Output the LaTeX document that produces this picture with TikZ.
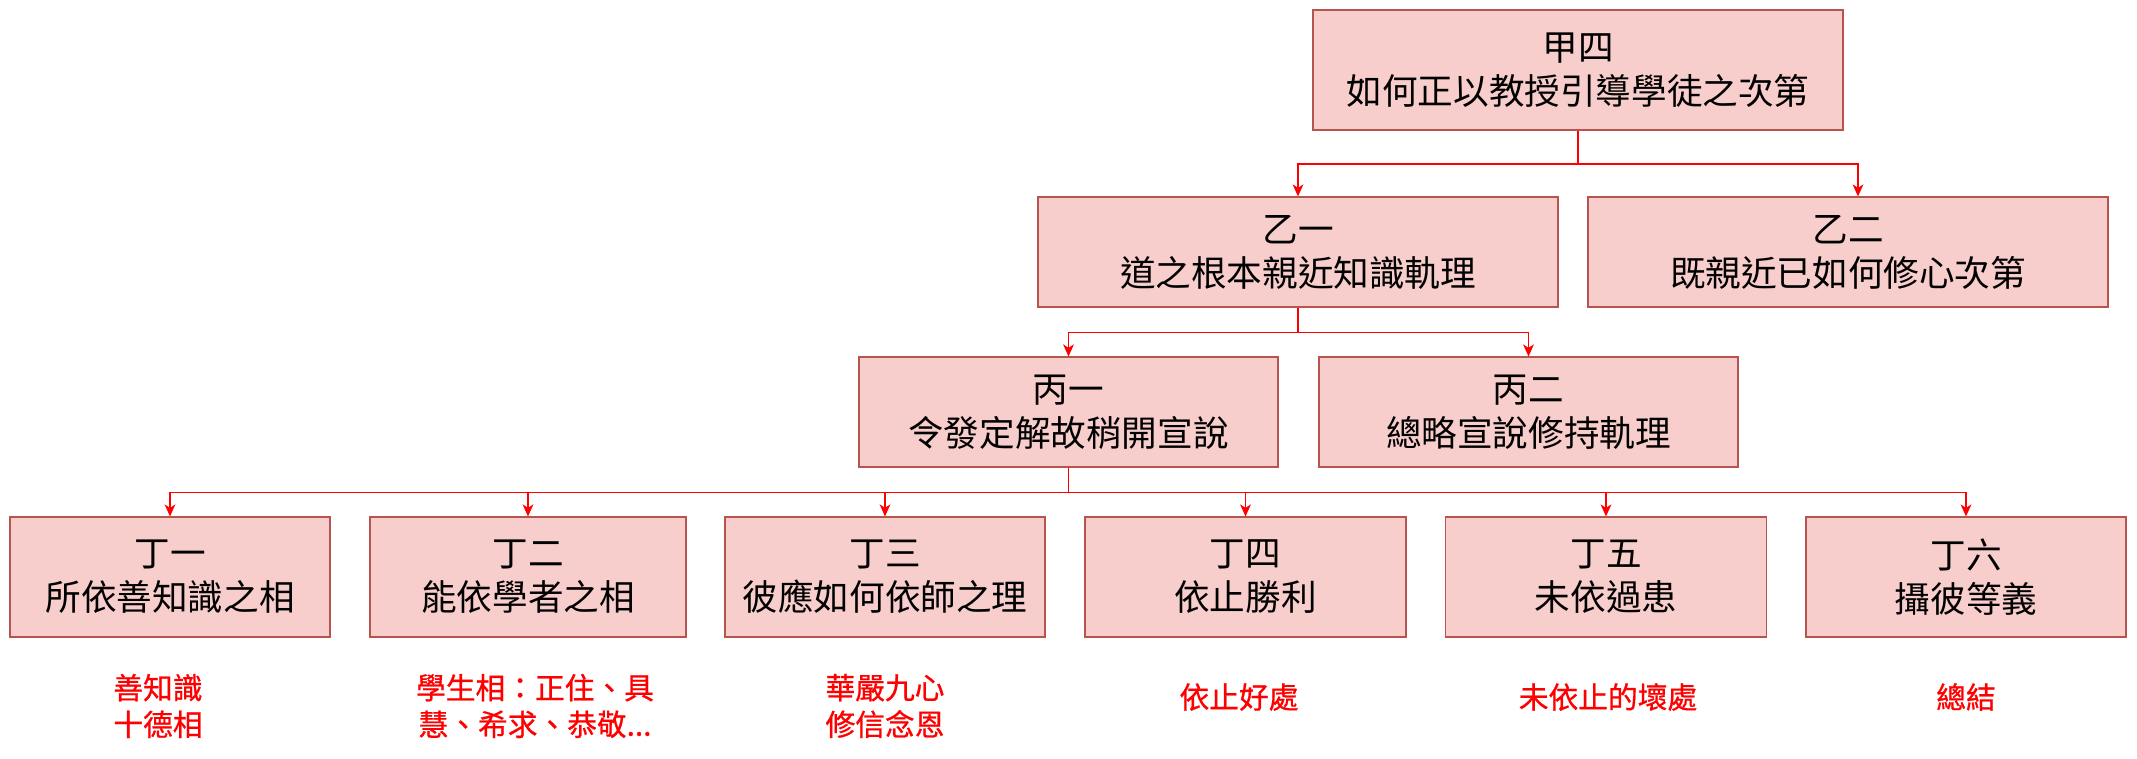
\documentclass[tikz,border=0pt]{standalone}
\usepackage{fontspec}
\newfontfamily\cjk{Noto Sans CJK TC}
\newfontfamily\cjknote[FakeBold=0.8]{Noto Sans CJK TC}
\usetikzlibrary{arrows.meta}
\definecolor{boxfill}{HTML}{F8CECC}
\definecolor{boxdraw}{HTML}{B85450}
\definecolor{connred}{HTML}{FF0000}
\tikzset{
  box/.style={draw=boxdraw, fill=boxfill, line width=0.8pt, align=center, inner sep=0pt,
    text=black, font=\cjk\fontsize{26.7pt}{33pt}\selectfont},
  connector/.style={draw=connred, line width=1.3pt, -{Stealth[length=9pt,width=8pt,inset=2.5pt]}},
  note/.style={text=connred, align=center, inner sep=0pt, font=\cjknote\fontsize{22.3pt}{27.5pt}\selectfont}
}
\begin{document}
\begin{tikzpicture}[x=0.75pt,y=-0.75pt]
\useasboundingbox (0,0) rectangle (2137,758);
% level 1
\node[box, minimum width=530*0.75pt, minimum height=120*0.75pt] (jia) at (1578,70) {甲四\\如何正以教授引導學徒之次第};
% level 2
\node[box, minimum width=520*0.75pt, minimum height=110*0.75pt] (yi1) at (1298,252) {乙一\\道之根本親近知識軌理};
\node[box, minimum width=520*0.75pt, minimum height=110*0.75pt] (yi2) at (1848,252) {乙二\\既親近已如何修心次第};
% level 3
\node[box, minimum width=419*0.75pt, minimum height=110*0.75pt] (bing1) at (1068.5,412) {丙一\\令發定解故稍開宣說};
\node[box, minimum width=419*0.75pt, minimum height=110*0.75pt] (bing2) at (1528.5,412) {丙二\\總略宣說修持軌理};
% level 4
\node[box, minimum width=320*0.75pt, minimum height=120*0.75pt] (d1) at (170,577) {丁一\\所依善知識之相};
\node[box, minimum width=316*0.75pt, minimum height=120*0.75pt] (d2) at (528,577) {丁二\\能依學者之相};
\node[box, minimum width=320*0.75pt, minimum height=120*0.75pt] (d3) at (885,577) {丁三\\彼應如何依師之理};
\node[box, minimum width=321*0.75pt, minimum height=120*0.75pt] (d4) at (1245.5,577) {丁四\\依止勝利};
\node[box, minimum width=321*0.75pt, minimum height=120*0.75pt] (d5) at (1606,577) {丁五\\未依過患};
\node[box, minimum width=320*0.75pt, minimum height=120*0.75pt] (d6) at (1966,577) {丁六\\攝彼等義};
% notes
\node[note] (n1) at (158,706) {善知識\\十德相};
\node[note] (n2) at (535,706) {學生相：正住、具\\慧、希求、恭敬...};
\node[note] (n3) at (885,706) {華嚴九心\\修信念恩};
\node[note] (n4) at (1239,697) {依止好處};
\node[note] (n5) at (1608,697) {未依止的壞處};
\node[note] (n6) at (1966,697) {總結};
% connectors
\draw[connector] (jia.south) -- ++(0,33.5) -| (yi1.north);
\draw[connector] (jia.south) -- ++(0,33.5) -| ([xshift=7.5pt]yi2.north);
\draw[connector] (yi1.south) -- ++(0,25) -| (bing1.north);
\draw[connector] (yi1.south) -- ++(0,25) -| (bing2.north);
\foreach \d in {d1,d2,d3,d4,d5,d6}{
  \draw[connector] (bing1.south) -- ++(0,25) -| (\d.north);
}
\end{tikzpicture}
\end{document}
